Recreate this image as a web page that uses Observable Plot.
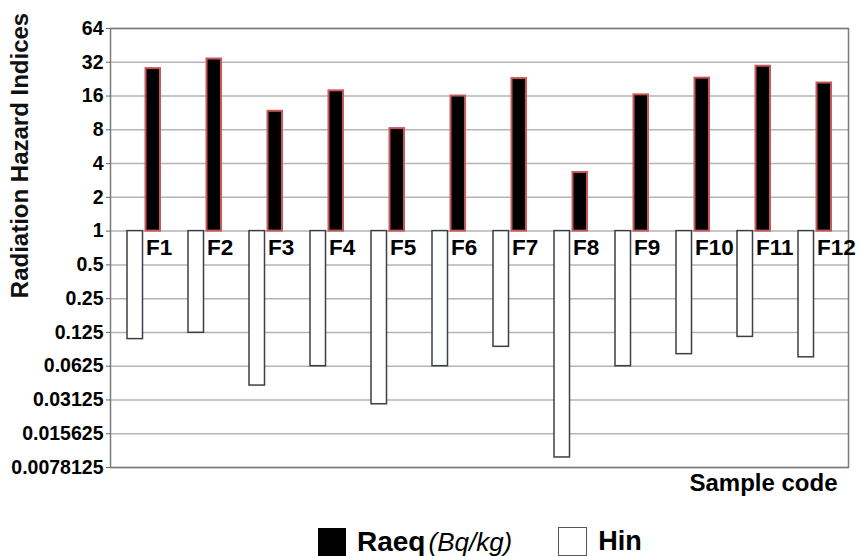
<!DOCTYPE html>
<html><head><meta charset="utf-8">
<script src="https://cdn.jsdelivr.net/npm/d3@7"></script>
<script src="https://cdn.jsdelivr.net/npm/@observablehq/plot@0.6"></script>
<style>
body{margin:0;background:#fff;font-family:"Liberation Sans",Arial,sans-serif;}
#chart{position:relative;width:860px;height:556px;overflow:hidden;background:#fff}
.legend{position:absolute;left:318px;top:527px;display:flex;align-items:center;font-size:27px;color:#000;white-space:nowrap;line-height:1}
.sw{width:28px;height:28px;box-sizing:border-box;flex:none}
.sw.black{background:#000}
.sw.white{background:#fff;border:1.5px solid #555;width:29px;height:29px}
.b{font-weight:bold}
.i{font-style:italic;font-size:26px}
</style></head>
<body><div id="chart"></div>
<script>
const samples = ["F1","F2","F3","F4","F5","F6","F7","F8","F9","F10","F11","F12"];
const raeq = [28.1, 34.2, 11.7, 17.8, 8.2, 16.0, 22.9, 3.33, 16.4, 23.1, 29.5, 20.9];
const hin = [0.109, 0.124, 0.042, 0.0625, 0.0286, 0.0625, 0.093, 0.0096, 0.0625, 0.080, 0.114, 0.075];
const yTicks = [0.0078125, 0.015625, 0.03125, 0.0625, 0.125, 0.25, 0.5, 1, 2, 4, 8, 16, 32, 64];
const yTitle = "Radiation Hazard Indices";
const xTitle = "Sample code";

const data = samples.map((s, i) => ({sample: s, raeq: raeq[i], hin: hin[i]}));

const chart = Plot.plot({
  width: 860,
  height: 510,
  marginLeft: 110,
  marginRight: 12,
  marginTop: 28,
  marginBottom: 43,
  style: {fontFamily: "'Liberation Sans', Arial, sans-serif", color: "#000", background: "#fff"},
  x: {domain: samples, padding: 0, axis: null},
  y: {type: "log", base: 2, domain: [0.0078125, 64], axis: null},
  marks: [
    Plot.gridY(yTicks, {stroke: "#b4b4b4", strokeOpacity: 1, strokeWidth: 1.5}),
    Plot.frame({stroke: "#7a7a7a", strokeWidth: 1.5}),
    Plot.axisY(yTicks, {tickFormat: d => String(d), tickSize: 4, tickPadding: 3, fontSize: 19.5, fontWeight: "bold", stroke: "#666"}),
    Plot.barY(data, {x: "sample", y1: "hin", y2: () => 1, fill: "#fff", stroke: "#3a3f48", strokeWidth: 1.5, insetLeft: 14, insetRight: 31.5}),
    Plot.barY(data, {x: "sample", y1: () => 1, y2: "raeq", fill: "#000", stroke: "#c8585a", strokeWidth: 2, insetLeft: 32.5, insetRight: 14}),
    Plot.text(data, {x: "sample", y: () => 1, text: "sample", dx: 2, dy: 17, textAnchor: "start", lineAnchor: "middle", fontWeight: "bold", fontSize: 22.5, fill: "#000"}),
    Plot.text([yTitle], {frameAnchor: "top-left", dx: -90.5, dy: 127, rotate: -90, textAnchor: "middle", lineAnchor: "middle", fontWeight: "bold", fontSize: 24, fill: "#111"}),
    Plot.text([xTitle], {frameAnchor: "bottom-right", dx: -11, dy: 16, textAnchor: "end", lineAnchor: "middle", fontWeight: "bold", fontSize: 24, fill: "#000"})
  ]
});

const root = document.getElementById("chart");
root.appendChild(chart);
const legend = document.createElement("div");
legend.className = "legend";
legend.innerHTML = '<span class="sw black"></span><span class="b" style="margin-left:11px;font-size:28px">Raeq</span><span class="i" style="margin-left:3px">(Bq/kg)</span>' +
  '<span class="sw white" style="margin-left:46px"></span><span class="b" style="margin-left:11px">Hin</span>';
root.appendChild(legend);
</script>
</body></html>
